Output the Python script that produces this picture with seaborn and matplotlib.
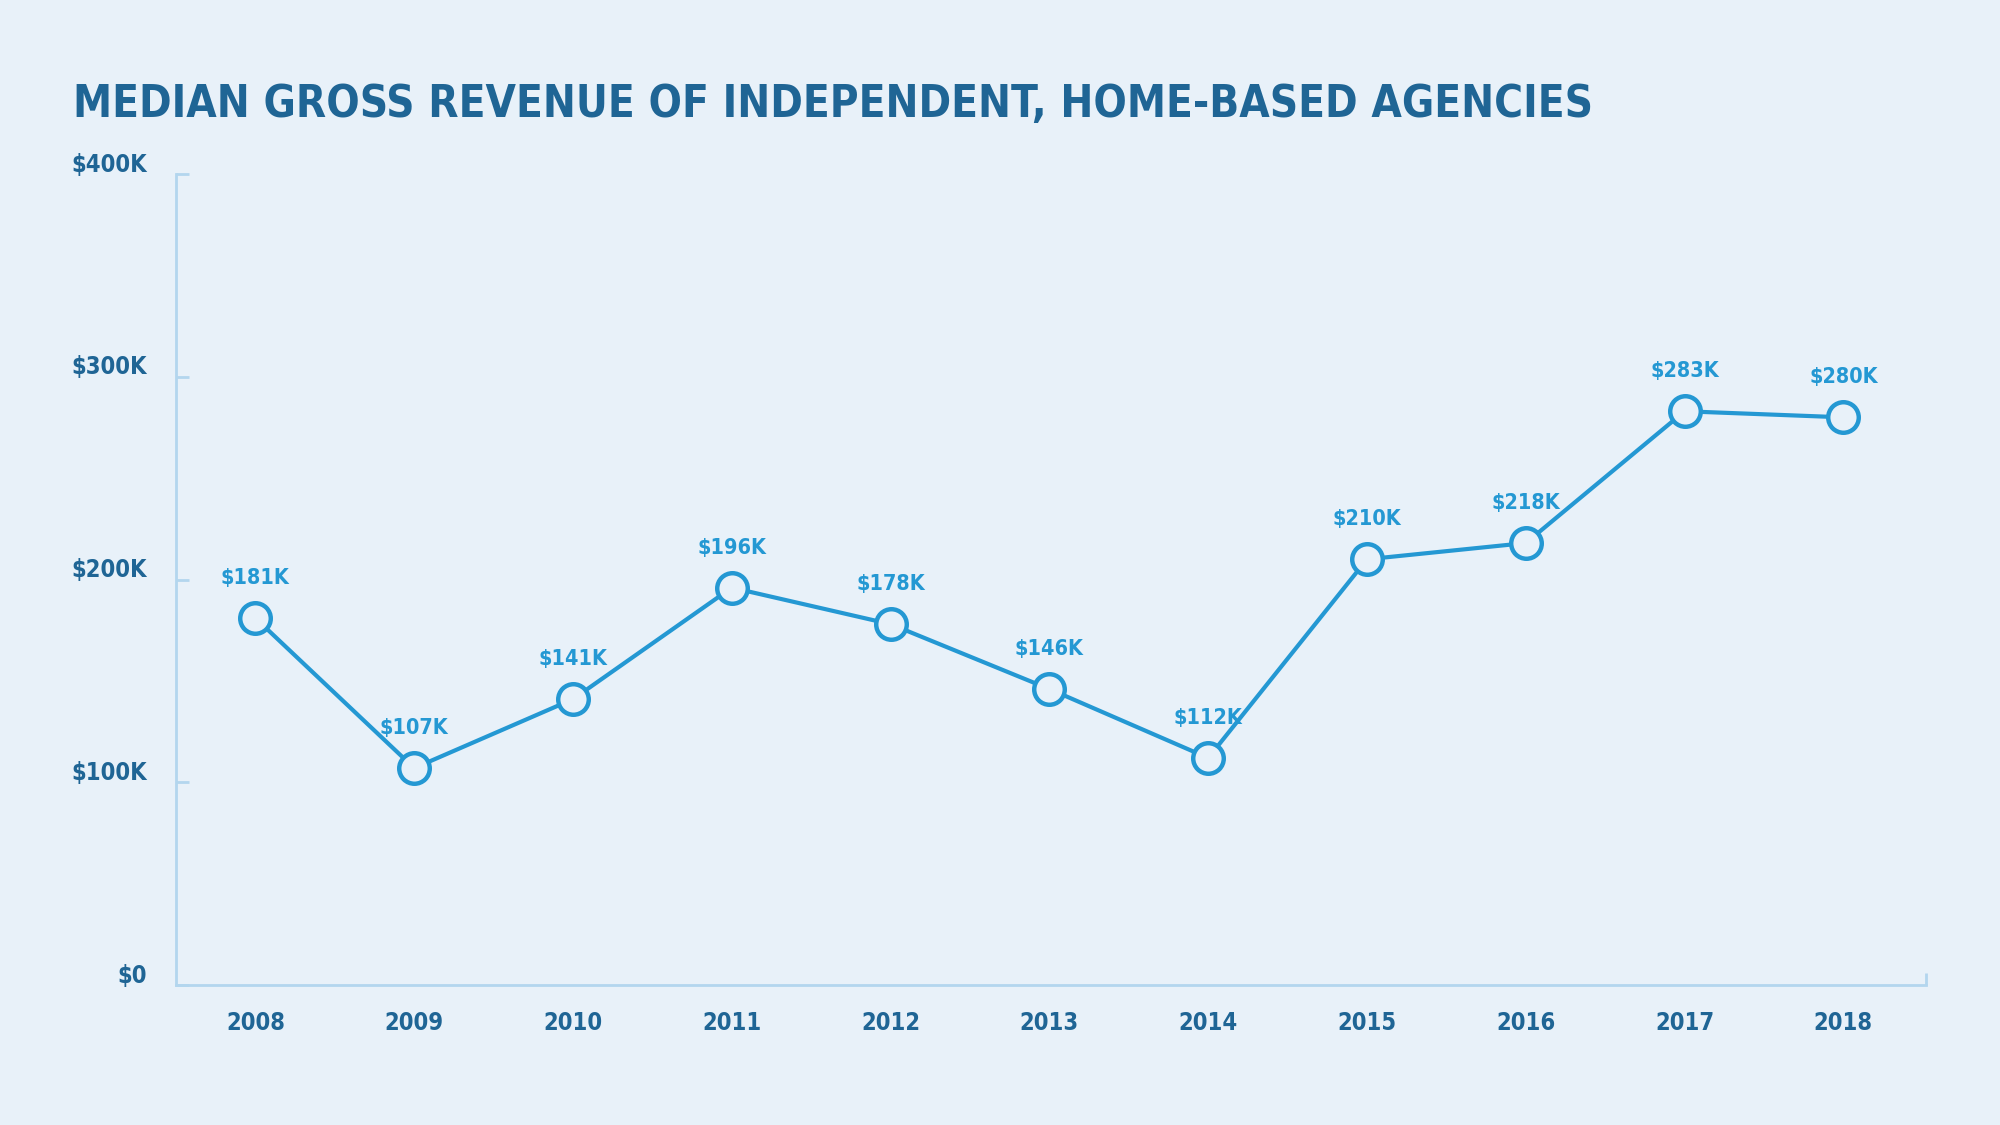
import numpy as np
import pandas as pd
import matplotlib
matplotlib.use("Agg")
import matplotlib.pyplot as plt
import matplotlib.transforms as mtransforms
import seaborn as sns

# ---- data (thousands of dollars) ----
years = [2008, 2009, 2010, 2011, 2012, 2013, 2014, 2015, 2016, 2017, 2018]
revenue_k = [181, 107, 141, 196, 178, 146, 112, 210, 218, 283, 280]
y_ticks = [0, 100, 200, 300, 400]
y_tick_labels = ["$0", "$100K", "$200K", "$300K", "$400K"]
title = "MEDIAN GROSS REVENUE OF INDEPENDENT, HOME-BASED AGENCIES"

BG = "#E8F1F9"
DARK = "#1F6595"
LINE = "#2498D3"
AXIS = "#B3D6EE"

df = pd.DataFrame({"year": years, "revenue": revenue_k})

sns.set_theme(style="white")
plt.rcParams['font.family'] = ['DejaVu Sans']
plt.rcParams['font.weight'] = 'bold'
plt.rcParams['font.stretch'] = 'condensed'

fig = plt.figure(figsize=(20, 11.25), dpi=100)
fig.patch.set_facecolor(BG)
ax = fig.add_axes([0.088, 0.1244, 0.875, 0.7209])
ax.set_facecolor(BG)

sns.lineplot(data=df, x="year", y="revenue", ax=ax, color=LINE, lw=3,
             marker="o", markersize=22, markerfacecolor=BG,
             markeredgecolor=LINE, markeredgewidth=3.2)

for x, v in zip(years, revenue_k):
    ax.annotate(f"${v}K", (x, v), xytext=(0, 28.8), textcoords="offset points",
                ha="center", va="center", fontsize=15.5, fontweight="bold", color=LINE)

ax.set_xlim(2007.5, 2018.52)
ax.set_ylim(0, 400)
ax.set_xticks(years)
ax.set_xticklabels([str(y) for y in years])
ax.set_xticks([2018.52], minor=True)
ax.set_yticks(y_ticks)
ax.set_yticklabels(y_tick_labels)
ax.set_xlabel("")
ax.set_ylabel("")

for s in ["top", "right"]:
    ax.spines[s].set_visible(False)
for s in ["left", "bottom"]:
    ax.spines[s].set_color(AXIS)
    ax.spines[s].set_linewidth(2)

ax.tick_params(axis="x", which="major", bottom=False, pad=13, labelsize=17, labelcolor=DARK)
ax.tick_params(axis="x", which="minor", bottom=True, direction="in", length=9, width=2, color=AXIS)
ax.tick_params(axis="y", left=True, direction="in", length=9, width=2, color=AXIS,
               pad=21, labelsize=17, labelcolor=DARK)
for lab in ax.get_xticklabels() + ax.get_yticklabels():
    lab.set_fontweight("bold")

# lift the y labels a bit above their ticks
shift = mtransforms.ScaledTranslation(0, 12 / 100, fig.dpi_scale_trans)
for lab in ax.get_yticklabels():
    lab.set_transform(lab.get_transform() + shift)

t = fig.text(0.0365, 1 - 117 / 1125, title, ha="left", va="baseline",
             fontsize=40, fontweight="bold", color=DARK)
# shrink the title so it spans the same width as in the reference
fig.canvas.draw()
w = t.get_window_extent().width
t.set_fontsize(40 * 1518 / w)

fig.savefig("out.png", dpi=100, facecolor=BG)
